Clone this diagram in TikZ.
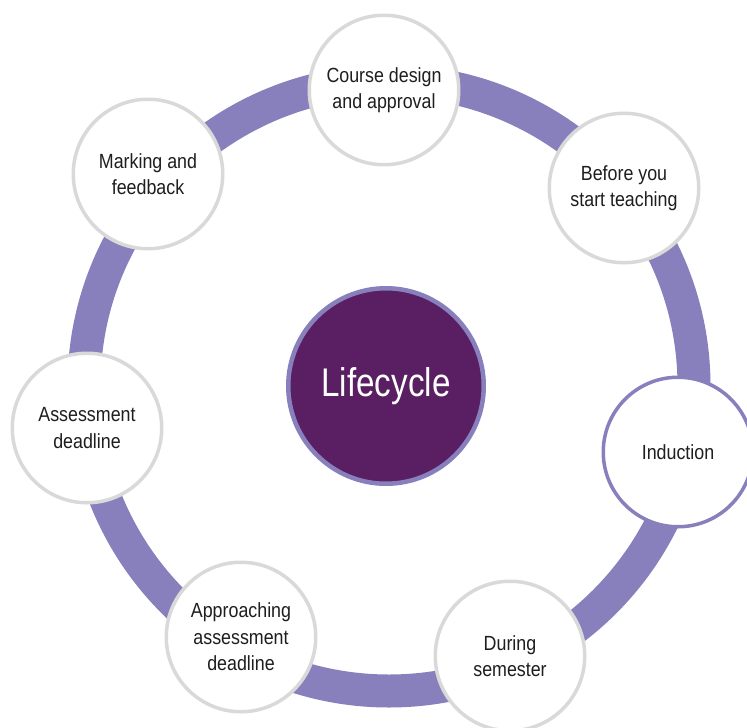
\documentclass[tikz,border=0pt]{standalone}
\usepackage{fontspec}
\setmainfont{Liberation Sans}[FakeStretch=0.83]
\newfontfamily\stagefont{Liberation Sans}[FakeStretch=0.87]
\usetikzlibrary{backgrounds}
\definecolor{ringpurple}{HTML}{8780BD}
\definecolor{hubpurple}{HTML}{5A1F62}
\definecolor{stagegray}{HTML}{D9D9D9}
\definecolor{textgray}{HTML}{1E1E1E}
\begin{document}
\begin{tikzpicture}[x=1pt,y=-1pt,
  stage/.style={draw=stagegray, fill=white, circle, line width=3.5pt, minimum size=149.5pt, inner sep=0pt, align=center, text=textgray, font=\stagefont\fontsize{20.5}{26.5}\selectfont},
  hub/.style={draw=ringpurple, fill=hubpurple, circle, line width=4.5pt, minimum size=195.5pt, inner sep=0pt, text=white, font=\fontsize{40}{48}\selectfont}]
\useasboundingbox (0,0) rectangle (747,728);
\node[hub] (life) at (386,386) {Lifecycle};
\coordinate (ringc) at (389,386);

\node[stage] (course) at (384,90) {Course design\\and approval};
\node[stage] (before) at (624,188) {Before you\\start teaching};
\node[stage, draw=ringpurple] (induction) at (678,452) {Induction};
\node[stage] (during) at (510,656) {During\\semester};
\node[stage] (approach) at (241,637) {Approaching\\assessment\\deadline};
\node[stage] (assess) at (87,428) {Assessment\\deadline};
\node[stage] (marking) at (148,174) {Marking and\\feedback};

\begin{scope}[on background layer]
\draw[ringpurple, line width=33pt] (ringc) circle[radius=305pt];
\end{scope}
\end{tikzpicture}
\end{document}
